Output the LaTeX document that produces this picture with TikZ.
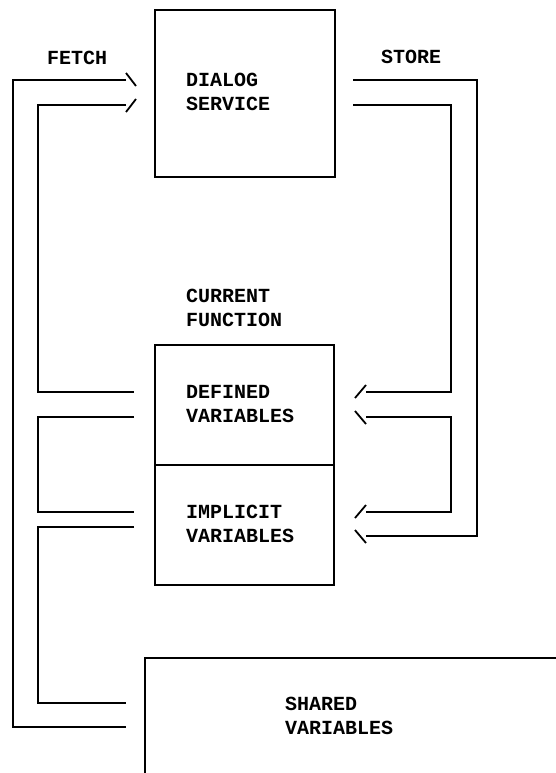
\documentclass[tikz,border=0pt]{standalone}
\usepackage{fontspec}
\setmonofont{Liberation Mono}
\usetikzlibrary{calc}

\begin{document}
\begin{tikzpicture}[
  x=1pt,y=-1pt,
  font=\ttfamily\bfseries\fontsize{20}{24}\selectfont,
  box/.style={draw=black, line width=1.8pt, rectangle, inner sep=0pt},
  wire/.style={draw=black, line width=1.8pt, line join=miter},
  tick/.style={draw=black, line width=1.8pt},
  caption/.style={anchor=west, align=left, inner sep=0pt}
]
\path[use as bounding box] (0,0) rectangle (556,773);

% Boxes
\node[box, minimum width=180, minimum height=167] (dialog) at (245,93.5) {};
\node[box, minimum width=179, minimum height=120] (defined) at (244.5,405) {};
\node[box, minimum width=179, minimum height=120] (implicit) at (244.5,525) {};
\begin{scope}
  \clip (0,0) rectangle (556,773);
  \node[box, anchor=north west, minimum width=440, minimum height=140] (shared) at (144,657) {};
\end{scope}

% Labels
\node[caption] (fetch) at (47,58) {FETCH};
\node[caption] (store) at (381,57) {STORE};
\node[caption] (dialogtxt) at (186,92) {DIALOG\\SERVICE};
\node[caption] (current) at (186,308) {CURRENT\\FUNCTION};
\node[caption] (definedtxt) at (186,404) {DEFINED\\VARIABLES};
\node[caption] (implicittxt) at (186,524) {IMPLICIT\\VARIABLES};
\node[caption] (sharedtxt) at (285,716) {SHARED\\VARIABLES};

% Wire ends
\coordinate (fo) at (126,80);   \coordinate (fi) at (126,105);
\coordinate (dl1) at (134,392); \coordinate (dl2) at (134,417);
\coordinate (il1) at (134,512); \coordinate (il2) at (134,527);
\coordinate (sl1) at (126,703); \coordinate (sl2) at (126,727);
\coordinate (so) at (353,80);   \coordinate (si) at (353,105);
\coordinate (dr1) at (366,392); \coordinate (dr2) at (366,417);
\coordinate (ir1) at (366,512); \coordinate (ir2) at (366,536);

% Rails
\coordinate (railA) at (13,0);  \coordinate (railB) at (38,0);
\coordinate (railC) at (477,0); \coordinate (railD) at (451,0);

% Fetch side
\draw[wire] (fo) -| (railA |- sl2) -- (sl2);
\draw[wire] (fi) -| (railB |- dl1) -- (dl1);
\draw[wire] (dl2) -| (railB |- il1) -- (il1);
\draw[wire] (il2) -| (railB |- sl1) -- (sl1);
\draw[tick] ($(fo)+(0,-7)$) -- ($(fo)+(10,6)$);
\draw[tick] ($(fi)+(0,7)$) -- ($(fi)+(10,-6)$);

% Store side
\draw[wire] (so) -| (railC |- ir2) -- (ir2);
\draw[wire] (si) -| (railD |- dr1) -- (dr1);
\draw[wire] (dr2) -| (railD |- ir1) -- (ir1);
\draw[tick] ($(dr1)+(0,-7)$) -- ($(dr1)+(-11,6)$);
\draw[tick] ($(dr2)+(0,7)$) -- ($(dr2)+(-11,-6)$);
\draw[tick] ($(ir1)+(0,-7)$) -- ($(ir1)+(-11,6)$);
\draw[tick] ($(ir2)+(0,7)$) -- ($(ir2)+(-11,-6)$);

\end{tikzpicture}
\end{document}
